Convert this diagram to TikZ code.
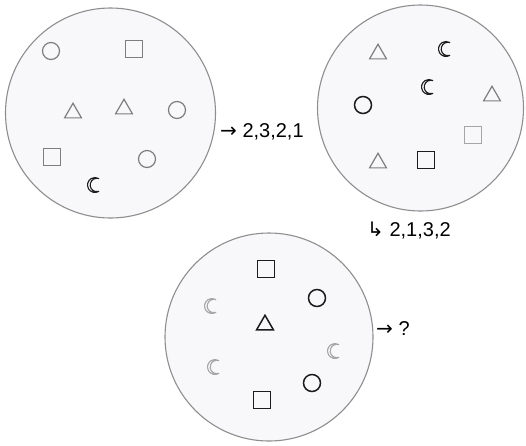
\documentclass[tikz,border=0pt]{standalone}
\usepackage{fontspec}
\setmainfont{Liberation Sans}
\newfontfamily\arrowfont{DejaVu Sans}
\usetikzlibrary{shapes.geometric}
\definecolor{bigfill}{HTML}{F8F8FB}
\definecolor{bigline}{HTML}{8E8E8E}
\definecolor{midg}{HTML}{7E7E7E}
\definecolor{lightg}{HTML}{A6A6A6}
\definecolor{darkg}{HTML}{1C1C1C}
\tikzset{
  x=1pt, y=-1pt,
  big/.style={circle, draw=bigline, fill=bigfill, line width=1.1pt, inner sep=0pt},
  ring/.style={circle, draw, minimum size=17pt, inner sep=0pt},
  sq/.style={rectangle, draw, minimum size=17pt, inner sep=0pt},
  tri/.style={regular polygon, regular polygon sides=3, draw, minimum size=19.5pt, inner sep=0pt},
  gr/.style={draw=midg, line width=1.2pt},
  lg/.style={draw=lightg, line width=1.2pt},
  dk/.style={draw=darkg, line width=1.5pt},
  lab/.style={anchor=west, inner sep=0pt, font=\fontsize{20}{23}\selectfont},
  pics/moon/.style={code={
    \draw[#1, line join=round, scale=1.07] (60:7) arc[start angle=60, end angle=300, radius=7]
      arc[start angle=285.8, end angle=74.2, radius=6.29] -- cycle;
  }}
}
\begin{document}
\begin{tikzpicture}
\useasboundingbox (0,0) rectangle (526,445);
% big circles
\node[big, minimum size=210pt] (A) at (110.5,113) {};
\node[big, minimum size=206pt] (B) at (420.5,108) {};
\node[big, minimum size=208pt] (C) at (269,337) {};
% circle A shapes
\node[ring, gr] (a1) at (51,51) {};
\node[sq, gr] (a2) at (134,49) {};
\node[tri, gr] (a3) at (73,113) {};
\node[tri, gr] (a4) at (124,109) {};
\node[ring, gr] (a5) at (177,110) {};
\node[sq, gr] (a6) at (52,157) {};
\node[ring, gr] (a7) at (147,159) {};
\pic at (95,185) {moon={draw=darkg, line width=1.1pt}};
% circle B shapes
\node[tri, gr] (b1) at (378,54) {};
\pic at (446,49) {moon={draw=darkg, line width=1.1pt}};
\pic at (429,87) {moon={draw=darkg, line width=1.1pt}};
\node[tri, gr] (b2) at (492,96) {};
\node[ring, dk] (b3) at (363,105) {};
\node[sq, lg] (b4) at (473,135) {};
\node[tri, gr] (b5) at (378,163) {};
\node[sq, dk] (b6) at (426,160) {};
% circle C shapes
\node[sq, dk] (c1) at (266,269) {};
\pic at (212,306) {moon={draw=lightg, line width=1.1pt}};
\node[ring, dk] (c2) at (317,298) {};
\node[tri, dk] (c3) at (265,325) {};
\pic at (335,351) {moon={draw=lightg, line width=1.1pt}};
\pic at (215,367) {moon={draw=lightg, line width=1.1pt}};
\node[ring, dk] (c4) at (312,383) {};
\node[sq, dk] (c5) at (262,400) {};
% labels
\node[lab] (L1) at (220,132) {{\arrowfont →} 2,3,2,1};
\node[lab] (L2) at (367,230) {{\arrowfont ↳} 2,1,3,2};
\node[lab] (L3) at (376,329) {{\arrowfont →} ?};
\end{tikzpicture}
\end{document}
